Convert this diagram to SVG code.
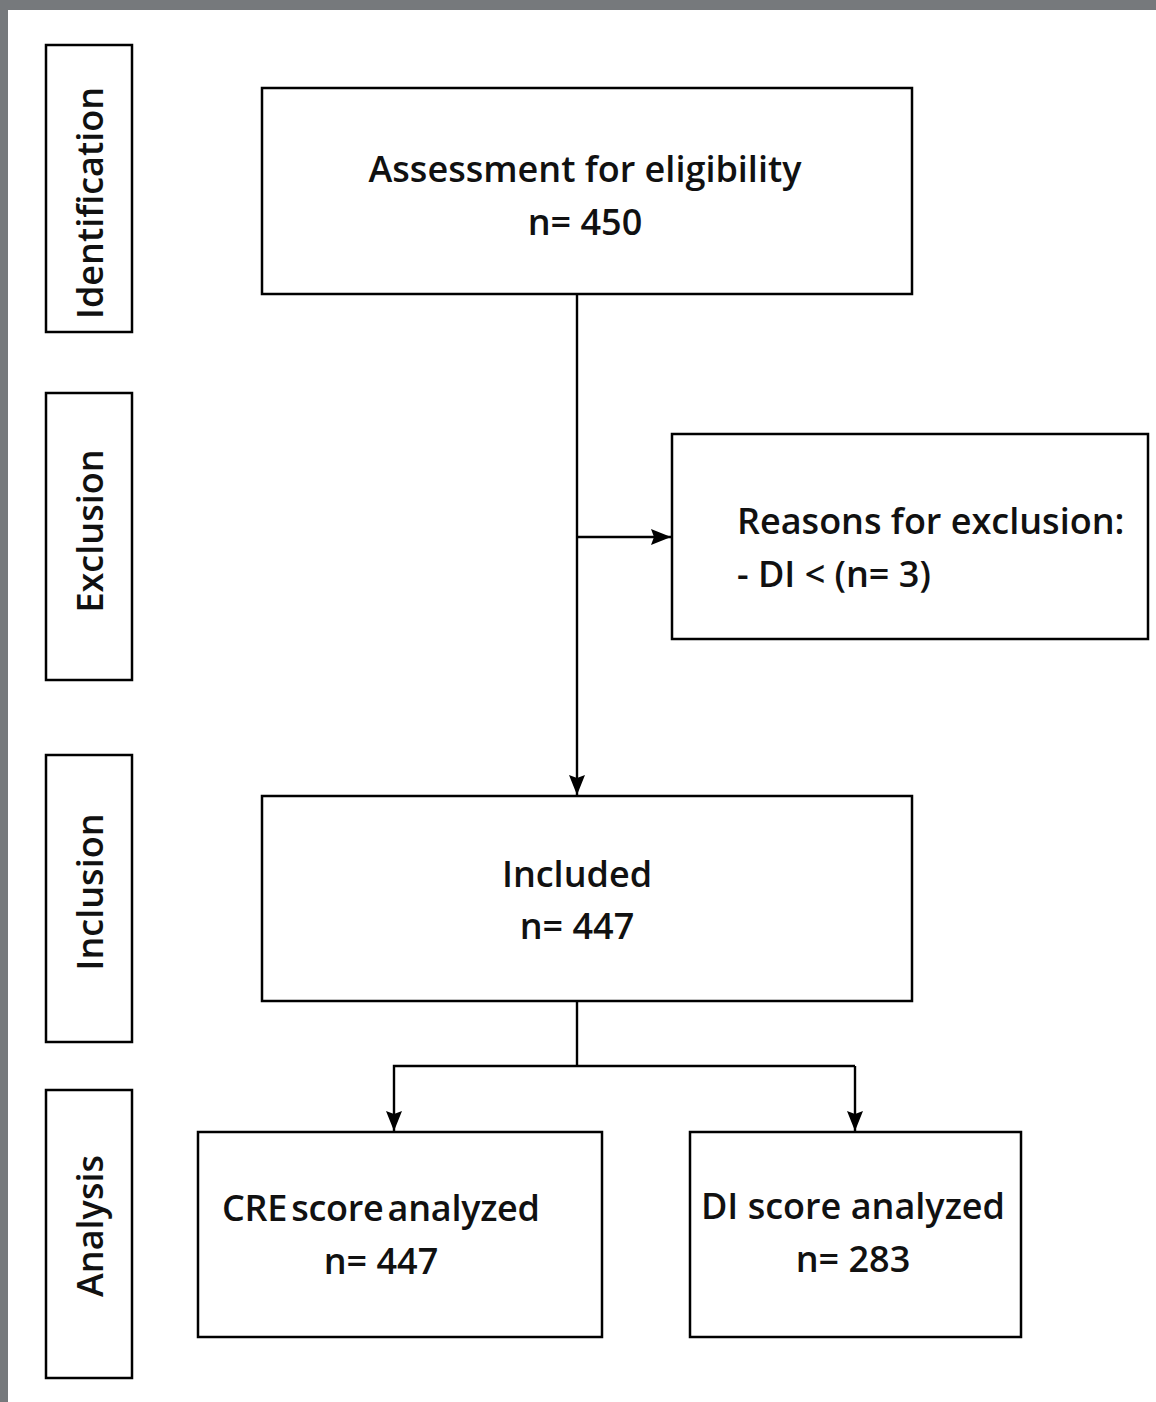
<svg xmlns="http://www.w3.org/2000/svg" width="1156" height="1402" viewBox="0 0 1156 1402">
<defs>
<style>
.box{fill:#fff;stroke:#000;stroke-width:2.5}
.t{font-family:"Open Sans","Liberation Sans",sans-serif;font-weight:600;font-size:36px;fill:#111}
.c{text-anchor:middle}
.ln{fill:none;stroke:#000;stroke-width:2.4}
</style>
<marker id="a" viewBox="0 0 20 16" refX="20" refY="8" markerWidth="20" markerHeight="16" markerUnits="userSpaceOnUse" orient="auto">
<path d="M0,0 L20,8 L0,16 L3,8 z" fill="#000"/>
</marker>
</defs>
<rect x="0" y="0" width="1156" height="1402" fill="#76797c"/>
<rect x="8" y="10" width="1148" height="1392" fill="#fff"/>

<g id="side-identification"><rect class="box" x="46" y="45" width="86" height="287"/><text class="t c" transform="translate(103,203) rotate(-90)">Identification</text></g>
<g id="side-exclusion"><rect class="box" x="46" y="393" width="86" height="287"/><text class="t c" transform="translate(103,531) rotate(-90)">Exclusion</text></g>
<g id="side-inclusion"><rect class="box" x="46" y="755" width="86" height="287"/><text class="t c" transform="translate(103,892) rotate(-90)">Inclusion</text></g>
<g id="side-analysis"><rect class="box" x="46" y="1090" width="86" height="288"/><text class="t c" transform="translate(103,1226) rotate(-90)">Analysis</text></g>

<g id="assessment"><rect class="box" x="262" y="88" width="650" height="206"/><text class="t c" x="585" y="182">Assessment for eligibility</text><text class="t c" x="585" y="235">n= 450</text></g>
<g id="exclusion"><rect class="box" x="672" y="434" width="476" height="205"/><text class="t" x="737" y="534">Reasons for exclusion:</text><text class="t" x="737" y="587">- DI &lt; (n= 3)</text></g>
<g id="included"><rect class="box" x="262" y="796" width="650" height="205"/><text class="t c" x="577" y="887">Included</text><text class="t c" x="577" y="939">n= 447</text></g>
<g id="cre"><rect class="box" x="198" y="1132" width="404" height="205"/><text class="t" x="222" y="1221" word-spacing="-5" textLength="318" lengthAdjust="spacing">CRE score analyzed</text><text class="t c" x="381" y="1274">n= 447</text></g>
<g id="di"><rect class="box" x="690" y="1132" width="331" height="205"/><text class="t c" x="853" y="1219">DI score analyzed</text><text class="t c" x="853" y="1272">n= 283</text></g>

<g id="connectors">
<path class="ln" d="M577,294 V795" marker-end="url(#a)"/>
<path class="ln" d="M577,537 H671" marker-end="url(#a)"/>
<path class="ln" d="M577,1001 V1066"/>
<path class="ln" d="M855,1066 H394 V1131" marker-end="url(#a)"/>
<path class="ln" d="M855,1066 V1131" marker-end="url(#a)"/>
</g>
</svg>
